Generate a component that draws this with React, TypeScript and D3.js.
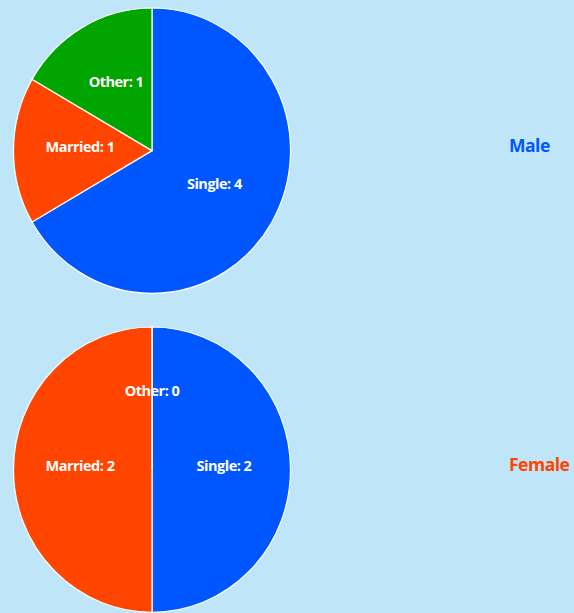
import React, { useEffect, useRef } from "react";
import * as d3 from "d3";

const categories = ["Single", "Married", "Other"];
const genders = ["Male", "Female"];
const maleValues = [4, 1, 1];
const femaleValues = [2, 2, 0];
const colors = ["#0057ff", "#ff4500", "#00a500"];
const genderColors = ["#0057ff", "#ff4500"];

const App = () => {
  const ref = useRef<SVGSVGElement>(null);

  useEffect(() => {
    const width = 574;
    const height = 613;
    const svg = d3.select(ref.current);
    svg.selectAll("*").remove();
    svg.attr("width", width).attr("height", height);

    svg.append("rect").attr("width", width).attr("height", height).attr("fill", "#bee6f8");

    const color = d3.scaleOrdinal<string, string>().domain(categories).range(colors);
    const legendColor = d3.scaleOrdinal<string, string>().domain(genders).range(genderColors);
    // each pie sits in its own row band
    const y = d3.scaleBand().domain(genders).range([8, 646]).paddingInner(0);

    const radius = 138.5;
    const stretch = 1.03;
    const pie = d3.pie<{ cat: string; value: number }>().sort(null).value((d) => d.value);
    const arc = d3.arc<d3.PieArcDatum<{ cat: string; value: number }>>().innerRadius(0).outerRadius(radius);
    const labelArc = d3
      .arc<d3.PieArcDatum<{ cat: string; value: number }>>()
      .innerRadius(radius * 0.52)
      .outerRadius(radius * 0.52);

    const series = [maleValues, femaleValues];

    genders.forEach((g, i) => {
      const rows = categories.map((c, j) => ({ cat: c, value: series[i][j] }));
      const arcs = pie(rows);
      const cy = (y(g) as number) + radius * stretch;
      const grp = svg.append("g").attr("transform", `translate(152,${cy})`);

      grp
        .append("g")
        .attr("transform", `scale(1,${stretch})`)
        .selectAll("path")
        .data(arcs)
        .join("path")
        .attr("d", arc)
        .attr("fill", (d) => color(d.data.cat))
        .attr("stroke", "#ffffff")
        .attr("stroke-width", 1.2);

      grp
        .selectAll("text")
        .data(arcs)
        .join("text")
        .attr("x", (d) => labelArc.centroid(d)[0])
        .attr("y", (d) => labelArc.centroid(d)[1] * stretch + 1)
        .attr("text-anchor", "middle")
        .attr("fill", "#ffffff")
        .attr("font-family", "'Open Sans', sans-serif")
        .attr("font-weight", "bold")
        .attr("font-size", 14.5)
        .attr("letter-spacing", -0.5)
        .text((d) => `${d.data.cat}: ${d.data.value}`);

      svg
        .append("text")
        .attr("x", 509)
        .attr("y", cy + 1)
        .attr("fill", legendColor(g))
        .attr("font-family", "'Open Sans', sans-serif")
        .attr("font-weight", "bold")
        .attr("font-size", 17.5)
        .attr("letter-spacing", -0.5)
        .text(g);
    });
  }, []);

  return <svg ref={ref} style={{ position: "absolute", left: 0, top: 0, display: "block" }}></svg>;
};

export default App;
